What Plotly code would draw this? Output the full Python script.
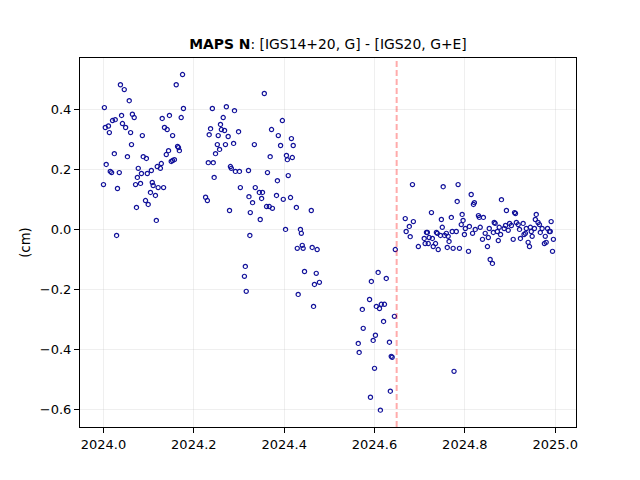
import plotly.graph_objects as go

YEAR = 2024
frac = [
 .002,.0375,.046,.057,.004,.011,.020,.026,.013,.040,.064,.068,.042,.049,.060,.086,.062,.024,.053,.088,.095,.006,.015,.018,.035,0,.031,.077,.084,.075,.071,.082,.097,.106,.119,.126,.128,.108,.110,.121,.133,.104,.115,.093,.099,.073,.117,.029,.130,.146,.135,.141,.153,.161,.175,.177,.172,.164,.166,.168,.144,.139,.157,.153,.150,
 .241,.272,.290,.265,.259,.237,.261,.268,.234,.254,.276,.299,.288,.252,.270,.257,.248,.232,.243,.281,.283,.292,.301,.321,.245,.303,.226,.230,.279,.322,.325,.324,
 .356,.396,.372,.387,.416,.334,.392,.420,.369,.405,.407,.418,.363,.409,.385,.336,.345,.352,.383,.414,.330,.350,.398,.361,.367,.374,.427,.460,.347,.403,.436,.438,.429,.440,.442,.462,.473,.314,.312,.445,.471,.467,.478,.316,.431,.465,
 .646,.608,.626,.593,.589,.604,.615,.622,.611,.573,.644,.620,.575,.602,.597,.633,.564,.566,.637,.639,.600,.635,.591,.613,
 .684,.752,.785,.814,.783,.821,.819,.726,.794,.668,.748,.770,.796,.830,.832,.841,.686,.677,.750,.792,.801,.810,.834,.823,.670,.679,.715,.717,.737,.739,.746,.759,.755,.763,.772,.781,.799,.817,.710,.721,.728,.765,.712,.719,.735,.839,.697,.730,.741,.761,.774,.788,.808,.776,
 .881,.892,.910,.912,.958,.956,.991,.962,.965,.865,.867,.899,.890,.903,.914,.918,.929,.876,.887,.854,.921,.936,.945,.954,.971,.983,.896,.863,.872,.845,.947,.967,.987,.989,.879,.931,.934,.949,.978,.852,.874,.907,.923,.996,.940,.943,.976,.980,.850,.994,.856,.861,
]
dn_cm = [
 .405,.481,.465,.428,.339,.344,.362,.365,.322,.379,.383,.372,.352,.339,.322,.312,.282,.252,.242,.242,.236,.216,.193,.189,.189,.149,.136,.203,.186,.173,.149,.153,.186,.196,.209,.203,.219,.156,.146,.139,.139,.123,.113,.096,.083,.073,.030,-.020,.369,.379,.339,.332,.312,.481,.515,.402,.372,.276,.272,.262,.262,.249,.232,.229,.226,
 .402,.408,.395,.372,.349,.335,.332,.329,.315,.312,.309,.325,.286,.282,.282,.266,.252,.222,.222,.209,.203,.193,.193,.196,.173,.139,.107,.096,.063,.109,.056,-.020,
 .452,.362,.332,.312,.302,.282,.279,.279,.242,.246,.232,.239,.189,.179,.162,.139,.123,.123,.113,.106,.089,.103,.100,.076,.076,.070,.073,.063,.033,0,0,-.013,-.063,-.053,-.063,-.060,-.067,-.123,-.156,-.140,-.146,-.183,-.176,-.206,-.216,-.256,
 -.067,-.143,-.163,-.173,-.233,-.256,-.249,-.249,-.263,-.266,-.289,-.306,-.329,-.352,-.369,-.375,-.379,-.409,-.422,-.425,-.462,-.538,-.558,-.601,
 .149,.142,.149,.116,.093,.089,.083,.056,.050,.036,.033,.040,.030,.046,.040,.040,.026,.010,.007,.016,.003,.010,.007,0,-.007,-.024,-.010,-.010,-.010,-.013,-.020,-.013,-.020,-.023,-.007,-.007,-.017,-.013,-.030,-.027,-.030,-.040,-.047,-.047,-.047,-.033,-.057,-.057,-.067,-.060,-.063,-.063,-.073,-.472,
 .099,.063,.056,.053,.050,.033,.026,.023,.016,.023,.020,.020,.013,.013,.023,.016,.020,.007,.003,.003,0,.003,.007,.003,.003,.003,-.003,-.010,-.007,-.013,-.007,-.010,-.007,-.007,-.017,-.017,-.013,-.023,-.023,-.027,-.037,-.033,-.030,-.033,-.043,-.057,-.047,-.043,-.057,-.073,-.100,-.113,
]
epoch = [YEAR + f for f in frac]
change_epoch = 2024.649
x_range = [2023.948, 2025.046]
y_range = [-0.657, 0.570]
title_text = "<b>MAPS N</b>: [IGS14+20, G] - [IGS20, G+E]"
y_title = "(cm)"
x_ticks = [2024.0, 2024.2, 2024.4, 2024.6, 2024.8, 2025.0]
y_ticks = [-0.6, -0.4, -0.2, 0.0, 0.2, 0.4]

fig = go.Figure(go.Scatter(
    x=epoch, y=dn_cm, mode="markers",
    marker=dict(symbol="circle", size=4.2, color="rgba(255,255,255,0)",
                line=dict(color="#12129a", width=1.2)),
    showlegend=False,
))
fig.add_shape(type="line", x0=change_epoch, x1=change_epoch, y0=0, y1=1,
              xref="x", yref="paper",
              line=dict(color="rgba(255,0,0,0.33)", width=2, dash="6px,3px"))

axis = dict(showline=True, linecolor="black", linewidth=1.1, mirror=True,
            ticks="outside", ticklen=5, tickwidth=1.1, tickcolor="black",
            showgrid=True, gridcolor="rgba(176,176,176,0.2)", gridwidth=0.8,
            zeroline=False, automargin=False, tickfont=dict(size=13, color="black"))
fig.update_layout(
    width=632, height=472, autosize=False,
    margin=dict(l=72, r=64, t=50, b=53, pad=0),
    plot_bgcolor="white", paper_bgcolor="white",
    font=dict(family="DejaVu Sans", size=13, color="black"),
    title=dict(text=title_text, x=320/632, xanchor="center", xref="container",
               y=1-36/472, yanchor="middle", yref="container", automargin=False,
               font=dict(size=13.9, color="black")),
    xaxis=dict(axis, range=x_range, tickvals=x_ticks, tickformat=".1f"),
    yaxis=dict(axis, range=y_range, tickvals=y_ticks, tickformat=".1f",
               title=dict(text=y_title, standoff=6, font=dict(size=13.3))),
)
fig.write_html("out.html")
